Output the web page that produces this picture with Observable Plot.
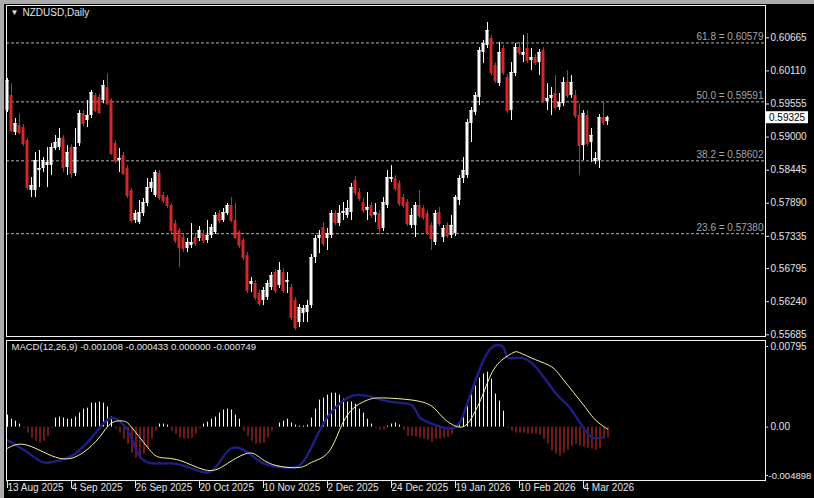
<!DOCTYPE html>
<html><head><meta charset="utf-8">
<script src="https://cdn.jsdelivr.net/npm/d3@7"></script>
<script src="https://cdn.jsdelivr.net/npm/@observablehq/plot@0.6"></script>
<style>
body{margin:0;background:#000;}
#wrap{position:relative;width:814px;height:498px;background:#000;overflow:hidden;}
#bt{position:absolute;left:0;top:0;width:814px;height:4px;background:#ababab;}
#bl{position:absolute;left:0;top:0;width:4px;height:498px;background:#ababab;}
#main{position:absolute;left:0;top:0;}
#macd{position:absolute;left:0;top:338px;}
svg{overflow:visible;}
</style></head>
<body>
<div id="wrap"><div id="bt"></div><div id="bl"></div><div id="main"></div><div id="macd"></div></div>
<script>
// ---- Daily NZDUSD candles (bar index 0 = 13 Aug 2025) ----
const open = [
0.59445,0.59697,0.59077,0.59194,0.59161,0.58942,0.58104,0.58104,0.58439,0.58473,
0.58523,0.58523,0.58808,0.58825,0.58976,0.5849,0.58825,0.58389,0.58892,0.59395,
0.59278,0.59361,0.59697,0.59664,0.59613,0.59831,0.59613,0.58892,0.58607,0.58691,
0.58473,0.58104,0.57601,0.57567,0.57718,0.57886,0.58137,0.5802,0.58389,0.5802,
0.57987,0.57852,0.5755,0.57433,0.57316,0.57131,0.57181,0.57316,0.57299,0.57383,
0.57265,0.5735,0.574,0.57718,0.57601,0.57718,0.57852,0.57601,0.574,0.57265,
0.57014,0.56527,0.56544,0.56376,0.56259,0.56309,0.56477,0.56728,0.5651,0.56728,
0.56561,0.56477,0.56259,0.5589,0.56041,0.56058,0.56175,0.5698,0.57299,0.57483,
0.57299,0.5735,0.57718,0.5755,0.57718,0.57684,0.57735,0.58271,0.5807,0.57902,
0.57768,0.57852,0.57684,0.57718,0.57467,0.57852,0.58288,0.58305,0.58221,0.57987,
0.57902,0.57517,0.57517,0.57852,0.57802,0.57718,0.57517,0.57232,0.57735,0.57316,
0.57517,0.5735,0.57383,0.57936,0.58305,0.58355,0.59228,0.59412,0.59664,0.60418,
0.60536,0.60653,0.602,0.59898,0.60485,0.59999,0.59445,0.60066,0.60502,0.60368,
0.60485,0.60284,0.60334,0.6025,0.60452,0.59596,0.59647,0.59731,0.59496,0.5956,
0.59915,0.59697,0.59697,0.59361,0.58858,0.59361,0.58909,0.5859,0.58607,0.59328,
0.5926];
const high = [
0.59982,0.59898,0.59311,0.59395,0.59211,0.58976,0.58322,0.58741,0.58775,0.58658,
0.58825,0.58892,0.59026,0.59144,0.59026,0.58858,0.58875,0.59144,0.59445,0.59445,
0.59613,0.59781,0.59731,0.59714,0.59948,0.60066,0.59647,0.58942,0.58808,0.58741,
0.58523,0.58137,0.57768,0.57936,0.5797,0.58305,0.58305,0.58439,0.58439,0.5807,
0.5802,0.57886,0.57601,0.57467,0.57366,0.57299,0.5755,0.57383,0.575,0.57433,
0.57601,0.57534,0.57735,0.57768,0.57802,0.57886,0.57987,0.57886,0.57433,0.57299,
0.57064,0.56645,0.56594,0.56427,0.56477,0.56594,0.56728,0.56779,0.56896,0.56796,
0.56728,0.56527,0.56309,0.56192,0.56175,0.56259,0.57031,0.5735,0.57433,0.57567,
0.57467,0.57768,0.57768,0.57852,0.57902,0.57936,0.58221,0.58338,0.58137,0.5797,
0.5807,0.57902,0.57886,0.57768,0.57987,0.58439,0.58523,0.58355,0.58271,0.58037,
0.57953,0.57802,0.57902,0.58104,0.57852,0.57768,0.57567,0.57768,0.57819,0.57517,
0.57567,0.57684,0.5802,0.58355,0.58658,0.59294,0.59496,0.59747,0.60502,0.60619,
0.60921,0.60703,0.6025,0.60586,0.60536,0.60049,0.6025,0.60569,0.60586,0.60703,
0.60737,0.60485,0.60384,0.60468,0.60502,0.59898,0.59831,0.60032,0.59731,0.59999,
0.60116,0.60032,0.59781,0.5956,0.59445,0.59445,0.59144,0.58741,0.59378,0.5958,
0.5935];
const low = [
0.59412,0.59077,0.59026,0.59043,0.58841,0.58104,0.57987,0.57987,0.58154,0.58405,
0.58154,0.58355,0.58775,0.58775,0.58405,0.58355,0.58305,0.58338,0.58841,0.59177,
0.59161,0.59311,0.59412,0.59378,0.5956,0.59529,0.58691,0.58557,0.58405,0.58355,
0.5797,0.57567,0.5755,0.57534,0.57668,0.57835,0.5807,0.57987,0.57936,0.57886,
0.57802,0.57383,0.57215,0.56812,0.57064,0.57064,0.57131,0.57165,0.57248,0.57215,
0.57215,0.57299,0.57366,0.5755,0.57567,0.57684,0.57567,0.57282,0.57131,0.5693,
0.56376,0.56393,0.56259,0.56158,0.56175,0.56259,0.56427,0.56376,0.5646,0.56376,
0.56376,0.55924,0.55756,0.55806,0.5589,0.5589,0.56125,0.5688,0.57047,0.57165,
0.57098,0.57299,0.57517,0.575,0.57601,0.57634,0.57601,0.5802,0.57919,0.57718,
0.57601,0.57634,0.57567,0.5735,0.57416,0.57802,0.58238,0.58087,0.57835,0.57802,
0.575,0.57467,0.57316,0.57634,0.57601,0.5735,0.57098,0.57181,0.575,0.57232,
0.57299,0.57299,0.57333,0.57852,0.58221,0.58305,0.58909,0.59361,0.59529,0.60234,
0.60485,0.60032,0.59898,0.59848,0.60032,0.59395,0.59278,0.60015,0.60368,0.6025,
0.60234,0.60116,0.602,0.60032,0.5956,0.59445,0.59361,0.59445,0.59445,0.59512,
0.59647,0.59647,0.59311,0.58355,0.58607,0.58841,0.58574,0.5854,0.58473,0.59194,
0.59194];
const close = [
0.59948,0.5911,0.59228,0.59077,0.58892,0.58154,0.58187,0.58607,0.58473,0.58607,
0.58574,0.58825,0.58909,0.58976,0.5849,0.58741,0.58389,0.58825,0.59395,0.59228,
0.59361,0.59747,0.59445,0.59412,0.59864,0.5956,0.58724,0.58607,0.58641,0.58389,
0.5802,0.57601,0.57718,0.57735,0.57902,0.58154,0.58238,0.58405,0.57987,0.57936,
0.57852,0.57433,0.57265,0.57148,0.57131,0.57232,0.57232,0.57215,0.57433,0.57265,
0.5735,0.57483,0.57684,0.57601,0.57735,0.57852,0.57601,0.57316,0.57181,0.5698,
0.56427,0.56577,0.56309,0.56209,0.56427,0.56544,0.56678,0.56427,0.56762,0.56427,
0.56594,0.55974,0.55806,0.56142,0.56125,0.56175,0.5698,0.57299,0.5735,0.57215,
0.57383,0.57718,0.57567,0.57718,0.57752,0.57802,0.58154,0.5807,0.5797,0.57768,
0.57819,0.57684,0.57735,0.57467,0.57902,0.58322,0.58322,0.58137,0.57886,0.57852,
0.5755,0.57684,0.57852,0.57684,0.57651,0.574,0.57299,0.57718,0.5755,0.57467,
0.5735,0.57517,0.57987,0.58305,0.58439,0.59244,0.59445,0.59697,0.60452,0.60569,
0.60787,0.60083,0.59948,0.60418,0.60083,0.59445,0.60083,0.60502,0.60418,0.60418,
0.60284,0.60334,0.6025,0.60418,0.59613,0.59647,0.59697,0.59496,0.5958,0.59915,
0.59697,0.59915,0.59361,0.58858,0.59395,0.58892,0.59026,0.58641,0.59328,0.59244,
0.59325];

// ---- MACD(12,26,9) panel ----
const histogram = [
0.0011,0.00073,0.00055,0.00028,-0.00009,-0.00055,-0.00101,-0.00129,-0.00147,-0.00129,
-0.00083,-0.00009,0.00083,0.00092,0.00083,0.00073,0.00073,0.00092,0.00129,0.00165,
0.00174,0.0022,0.0022,0.0023,0.0022,0.00184,0.00092,-0.00018,-0.00055,-0.0011,
-0.00156,-0.00239,-0.00285,-0.00294,-0.00248,-0.00193,-0.0011,-0.00037,0.00028,0.00028,
0.00018,-0.00037,-0.00064,-0.00101,-0.0011,-0.0011,-0.00101,-0.00064,-0.00018,0.00028,
0.00046,0.00073,0.00092,0.00129,0.00156,0.00165,0.00156,0.0011,0.00073,-0.00037,
-0.00083,-0.00129,-0.00156,-0.00156,-0.00147,-0.00101,-0.00037,-0.00009,0.00037,0.00055,
0.00073,0.00037,0.00018,0.00009,0.00009,0.00018,0.00083,0.00165,0.00248,0.00266,
0.00294,0.00312,0.00312,0.00294,0.00257,0.0023,0.0023,0.00211,0.00165,0.00129,
0.00073,0.00028,-0.00009,-0.00028,-0.00028,0.00009,0.00028,0.00037,0.00018,-0.00028,
-0.00083,-0.00083,-0.00092,-0.00101,-0.0011,-0.00119,-0.00138,-0.0011,-0.0011,-0.00101,
-0.00092,-0.00064,0.00009,0.00037,0.00119,0.00239,0.00312,0.00376,0.0045,0.00487,
0.00505,0.00441,0.00303,0.00239,0.00147,-0.00009,-0.00037,-0.00055,-0.00055,-0.00055,
-0.00064,-0.00064,-0.00064,-0.00073,-0.0011,-0.00156,-0.0022,-0.00248,-0.00266,-0.00239,
-0.00211,-0.00174,-0.00156,-0.00174,-0.00184,-0.00193,-0.00202,-0.00211,-0.00193,-0.0011,
-0.001008];
const macdBars = [0,5,9,13,17,22,26,30,32,35,41,46,50,53,56,60,64,69,73,76,80,85,88,91,96,101,103,107,112,115,118,121,124,125,128,132,137,140,143,146,149];
const macdLine = [-0.0012,-0.00231,-0.00323,-0.00305,-0.0024,-0.00055,0.00083,-0.00028,-0.00194,-0.00323,-0.00333,-0.00379,-0.00416,-0.00323,-0.00194,-0.00231,-0.00333,-0.0037,-0.00351,-0.00185,0.00092,0.00268,0.00296,0.00277,0.00231,0.00203,0.00092,0.00018,0,0.00222,0.00527,0.0073,0.0073,0.00638,0.00638,0.00554,0.00314,0.00203,0.00046,-0.00092,-0.00092];
const signalBars = [0,5,13,19,23,26,29,31,35,38,43,50,55,60,63,67,73,76,80,83,86,90,94,101,106,109,113,116,119,122,126,128,132,136,139,144,147,150];
const signalLine = [-0.00194,-0.00166,-0.00286,-0.00231,-0.00092,0.00037,0.00055,0,-0.00185,-0.00277,-0.00305,-0.00397,-0.00333,-0.0024,-0.00277,-0.00351,-0.0037,-0.00323,-0.0024,-0.00028,0.00157,0.00249,0.00268,0.00249,0.00194,0.00083,0,0.00083,0.00314,0.00554,0.00675,0.00684,0.00619,0.00554,0.00434,0.00203,0.00065,-0.00018];

// ---- axes / labels ----
const priceTicks = [0.60665,0.60110,0.59555,0.59000,0.58445,0.57890,0.57335,0.56795,0.56240,0.55685];
const fibLevels = [0.60579,0.59591,0.58602,0.57380];
const fibNames = ["61.8","50.0","38.2","23.6"];
const dateTickBars = [0,16,32,48,64,80,96,112,128,144];
const dateLabels = ["13 Aug 2025","4 Sep 2025","26 Sep 2025","20 Oct 2025","10 Nov 2025","2 Dec 2025","24 Dec 2025","19 Jan 2026","10 Feb 2026","4 Mar 2026"];
const macdTicks = [0.00795, 0, -0.004898];
const macdTickText = ["0.00795","0.00","-0.004898"];
const macdHeader = "MACD(12,26,9) -0.001008 -0.000433 0.000000 -0.000749";
const titleText = "NZDUSD,Daily";

const FONT = "Liberation Sans, Arial, sans-serif";
const TXT = "#e4e4e4";
const BULL = "#ffffff", BEAR = "#d22828";
const XD = [-0.25, 189.5];

const bars = open.map((o, i) => ({i, o, h: high[i], l: low[i], c: close[i], col: close[i] >= o ? BULL : BEAR}));
const hist = histogram.map((v, i) => ({i, v}));
const histUp = hist.filter(d => d.v >= 0);
const histDown = hist.filter(d => d.v < 0);
const macdPts = macdBars.map((b, k) => ({i: b, v: macdLine[k]}));
const sigPts = signalBars.map((b, k) => ({i: b, v: signalLine[k]}));

const main = Plot.plot({
  width: 814, height: 338,
  marginTop: 5, marginBottom: 2, marginLeft: 6, marginRight: 49,
  x: {domain: XD, axis: null},
  y: {domain: [0.55656, 0.61207], axis: null},
  color: {type: "identity"},
  style: {background: "transparent", color: TXT, fontFamily: FONT, fontSize: "10px"},
  marks: [
    Plot.ruleY(fibLevels, {y: d => d, stroke: "#b4b4b4", strokeDasharray: "3,2"}),
    Plot.text(fibLevels, {x: XD[1], y: d => d, text: (d, k) => fibNames[k] + " = " + d.toFixed(5),
      textAnchor: "end", dx: -2, dy: -6, fill: "#a6a6a6", fontSize: 10}),
    Plot.ruleX(bars, {x: "i", y1: "l", y2: "h", stroke: "col"}),
    Plot.rect(bars, {x1: d => d.i - 0.375, x2: d => d.i + 0.375, y1: "o", y2: "c", fill: "col"}),
    Plot.ruleY(bars, {x1: d => d.i - 0.375, x2: d => d.i + 0.375, y: "c", stroke: "col"}),
    Plot.axisY(priceTicks, {anchor: "right", label: null, tickFormat: d => d.toFixed(5), tickSize: 3, tickPadding: 2,
      stroke: TXT, fill: TXT, fontSize: 10}),
    Plot.frame({stroke: "#f2f2f2"}),
    Plot.text(["\u25BC"], {frameAnchor: "top-left", dx: 4, dy: 4, fill: TXT, fontSize: 8}),
    Plot.text([titleText], {frameAnchor: "top-left", dx: 16, dy: 3, fill: TXT, fontSize: 10})
  ]
});
document.getElementById("main").append(main);

// current price box on the right axis
const lastClose = close[close.length - 1];
const yLast = main.scale("y").apply(lastClose);
const g = d3.select(main).append("g");
g.append("rect").attr("x", 766).attr("y", yLast - 6).attr("width", 42).attr("height", 12).attr("fill", "#ffffff");
g.append("text").attr("x", 769).attr("y", yLast).attr("dy", "0.35em").attr("fill", "#000")
  .attr("text-anchor", "start").attr("font-family", FONT).attr("font-size", 10).text(lastClose.toFixed(5));

const macd = Plot.plot({
  width: 814, height: 160,
  marginTop: 2, marginBottom: 18, marginLeft: 6, marginRight: 49,
  x: {domain: XD, axis: null},
  y: {domain: [-0.004898, 0.00795], axis: null},
  color: {type: "identity"},
  style: {background: "transparent", color: TXT, fontFamily: FONT, fontSize: "10px"},
  marks: [
    Plot.ruleX(histUp, {x: "i", y1: 0, y2: "v", stroke: "#ffffff"}),
    Plot.ruleX(histDown, {x: "i", y1: 0, y2: "v", stroke: "#e03030", dx: 0.5}),
    Plot.line(macdPts, {x: "i", y: "v", stroke: "#1e1e86", strokeWidth: 2.4, curve: "natural"}),
    Plot.line(sigPts, {x: "i", y: "v", stroke: "#f4f4a6", strokeWidth: 1, curve: "natural"}),
    Plot.ruleY([macdTicks[0]], {x1: XD[1], x2: XD[1] + 0.75, y: d => d, stroke: TXT, dy: 6}),
    Plot.ruleY([macdTicks[1]], {x1: XD[1], x2: XD[1] + 0.75, y: d => d, stroke: TXT}),
    Plot.ruleY([macdTicks[2]], {x1: XD[1], x2: XD[1] + 0.75, y: d => d, stroke: TXT, dy: -5}),
    Plot.text([macdTicks[0]], {x: XD[1], y: d => d, text: () => macdTickText[0], textAnchor: "start", dx: 5, dy: 6, fill: TXT, fontSize: 10}),
    Plot.text([macdTicks[1]], {x: XD[1], y: d => d, text: () => macdTickText[1], textAnchor: "start", dx: 5, fill: TXT, fontSize: 10}),
    Plot.text([macdTicks[2]], {x: XD[1], y: d => d, text: () => macdTickText[2], textAnchor: "start", dx: 3, dy: -5, fill: TXT, fontSize: 9.5}),
    Plot.axisX(dateTickBars, {anchor: "bottom", label: null, tickFormat: d => dateLabels[dateTickBars.indexOf(d)],
      tickSize: 8, tickPadding: -5, textAnchor: "start", stroke: TXT, fill: TXT, fontSize: 10}),
    Plot.frame({stroke: "#f2f2f2"}),
    Plot.text([macdHeader], {frameAnchor: "top-left", dx: 5, dy: 3, fill: TXT, fontSize: 9.5})
  ]
});
document.getElementById("macd").append(macd);
</script>
</body></html>
